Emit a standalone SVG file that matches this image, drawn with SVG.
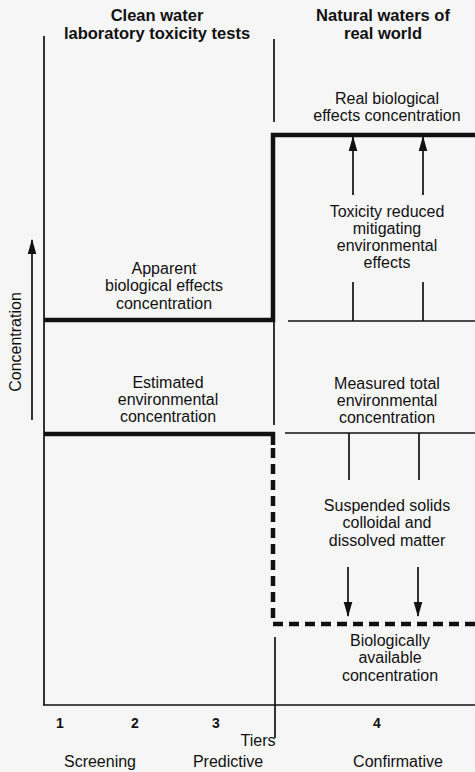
<svg xmlns="http://www.w3.org/2000/svg" width="475" height="772" viewBox="0 0 475 772">
<defs>
<style>
text{font-family:"Liberation Sans",Arial,sans-serif;font-size:16px;fill:#111;text-anchor:middle}
.b{font-weight:bold;font-size:16.5px}
.n{font-weight:bold;font-size:14px}
.thin{stroke:#111;stroke-width:1.7;fill:none}
.thick{stroke:#111;stroke-width:4.5;fill:none}
.dash{stroke:#111;stroke-width:4.5;fill:none;stroke-dasharray:10 6}
</style>
<marker id="ah" viewBox="0 0 14 10" refX="13" refY="5" markerWidth="15" markerHeight="11" markerUnits="userSpaceOnUse" orient="auto">
<path d="M0,1 L14,5 L0,9 Z" fill="#111"/>
</marker>
</defs>
<rect width="475" height="772" fill="#f6f6f6"/>

<g id="connectors">
<line class="thin" x1="44" y1="36" x2="44" y2="705"/>
<line class="thin" x1="43" y1="705" x2="475" y2="705"/>
<line class="thin" x1="274" y1="39" x2="274" y2="122"/>
<line class="thin" x1="274" y1="321" x2="274" y2="425"/>
<line class="thin" x1="275" y1="637" x2="275" y2="738"/>
<line class="thin" x1="32" y1="420" x2="32" y2="240" marker-end="url(#ah)"/>
<polyline class="thick" points="44,320 273,320 273,135 475,135"/>
<line class="thick" x1="44" y1="434" x2="275" y2="434"/>
<line class="thick" x1="273" y1="432" x2="273" y2="445"/>
<polyline class="dash" points="273,448 273,624 475,624"/>
<line class="thin" x1="288" y1="321" x2="475" y2="321"/>
<line class="thin" x1="285" y1="433" x2="475" y2="433"/>
<line class="thin" x1="353" y1="195" x2="353" y2="137" marker-end="url(#ah)"/>
<line class="thin" x1="423" y1="195" x2="423" y2="137" marker-end="url(#ah)"/>
<line class="thin" x1="353" y1="282" x2="353" y2="321"/>
<line class="thin" x1="423" y1="282" x2="423" y2="321"/>
<line class="thin" x1="349" y1="433" x2="349" y2="480"/>
<line class="thin" x1="419" y1="433" x2="419" y2="480"/>
<line class="thin" x1="348" y1="567" x2="348" y2="616" marker-end="url(#ah)"/>
<line class="thin" x1="418" y1="567" x2="418" y2="616" marker-end="url(#ah)"/>
</g>

<g id="header-left">
<text class="b" x="157" y="21">Clean water</text>
<text class="b" x="157" y="39">laboratory toxicity tests</text>
</g>
<g id="header-right">
<text class="b" x="383" y="21">Natural waters of</text>
<text class="b" x="383" y="39">real world</text>
</g>
<g id="real-effects">
<text x="387" y="104">Real biological</text>
<text x="387" y="121">effects concentration</text>
</g>
<g id="toxicity-reduced">
<text x="387" y="217">Toxicity reduced</text>
<text x="387" y="234">mitigating</text>
<text x="387" y="251">environmental</text>
<text x="387" y="268">effects</text>
</g>
<g id="apparent">
<text x="164" y="274">Apparent</text>
<text x="164" y="291">biological effects</text>
<text x="164" y="309">concentration</text>
</g>
<g id="estimated">
<text x="168" y="388">Estimated</text>
<text x="168" y="405">environmental</text>
<text x="168" y="422">concentration</text>
</g>
<g id="measured">
<text x="387" y="389">Measured total</text>
<text x="387" y="406">environmental</text>
<text x="387" y="423">concentration</text>
</g>
<g id="suspended">
<text x="387" y="511">Suspended solids</text>
<text x="387" y="528">colloidal and</text>
<text x="387" y="546">dissolved matter</text>
</g>
<g id="bioavailable">
<text x="390" y="646">Biologically</text>
<text x="390" y="663">available</text>
<text x="390" y="681">concentration</text>
</g>
<g id="y-axis-label">
<text transform="translate(21,342) rotate(-90)">Concentration</text>
</g>
<g id="tiers">
<text class="n" x="60" y="728">1</text>
<text class="n" x="135" y="728">2</text>
<text class="n" x="216" y="728">3</text>
<text class="n" x="377" y="728">4</text>
<text x="258" y="746">Tiers</text>
<text x="100" y="767">Screening</text>
<text x="228" y="767">Predictive</text>
<text x="398" y="767">Confirmative</text>
</g>
</svg>
